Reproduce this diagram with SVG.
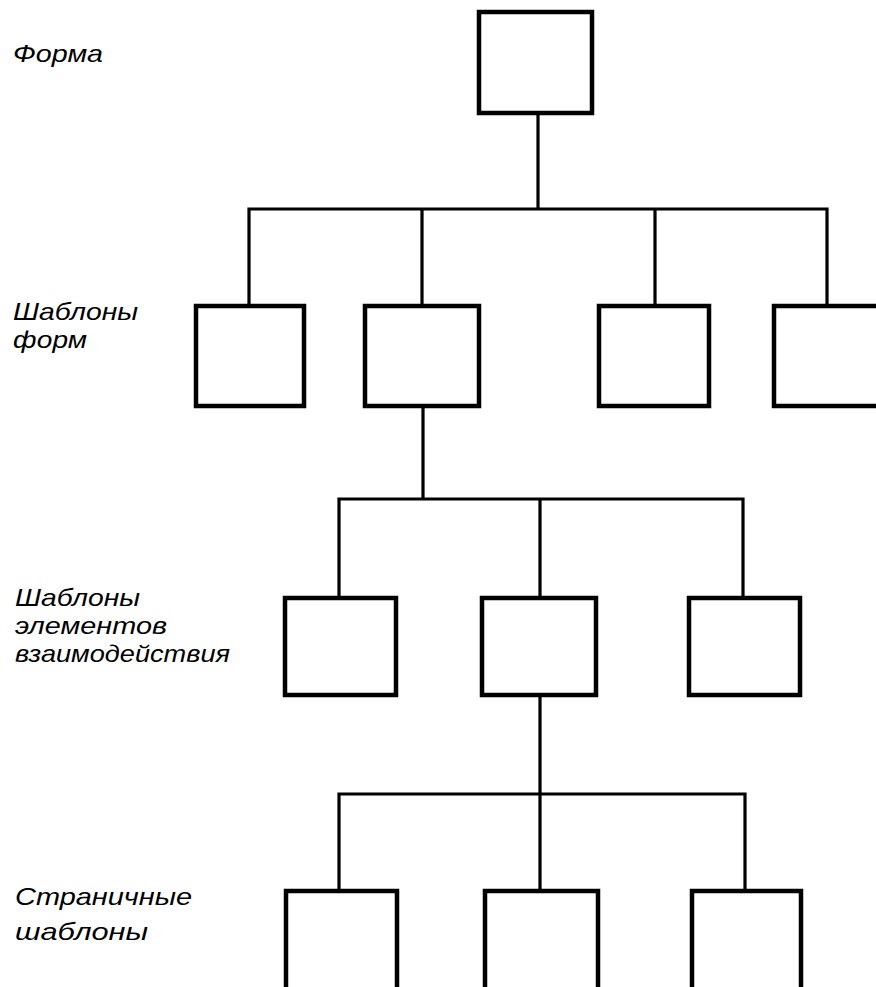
<svg xmlns="http://www.w3.org/2000/svg" width="876" height="987" viewBox="0 0 876 987">
<style>
.box{fill:#fff;stroke:#000;stroke-width:4.5}
.ln{fill:none;stroke:#000;stroke-width:3.2;stroke-linecap:square}
.lbl{font-family:"Liberation Sans",Arial,sans-serif;font-style:italic;font-size:24px;fill:#000}
</style>
<rect width="876" height="987" fill="#fff"/>
<g id="connectors">
<path class="ln" d="M538 113V209M249 209H827M249 209V306M422 209V306M655 209V306M827 209V306"/>
<path class="ln" d="M423 406V499M339 499H743M339 499V598M540 499V598M743 499V598"/>
<path class="ln" d="M540 695V794M339 794H745M339 794V891M540 794V891M745 794V891"/>
</g>
<g id="labels">
<text class="lbl" x="13" y="62" textLength="90" lengthAdjust="spacingAndGlyphs">Форма</text>
<text class="lbl" x="13" y="320" textLength="125" lengthAdjust="spacingAndGlyphs">Шаблоны</text>
<text class="lbl" x="13" y="348" textLength="74" lengthAdjust="spacingAndGlyphs">форм</text>
<text class="lbl" x="15" y="606" textLength="125" lengthAdjust="spacingAndGlyphs">Шаблоны</text>
<text class="lbl" x="15" y="634" textLength="152" lengthAdjust="spacingAndGlyphs">элементов</text>
<text class="lbl" x="15" y="662" textLength="215" lengthAdjust="spacingAndGlyphs">взаимодействия</text>
<text class="lbl" x="15" y="905" textLength="177" lengthAdjust="spacingAndGlyphs">Страничные</text>
<text class="lbl" x="15" y="940" textLength="133" lengthAdjust="spacingAndGlyphs">шаблоны</text>
</g>
<g id="n-root"><rect class="box" x="479" y="12" width="113" height="101"/></g>
<g id="n-f1"><rect class="box" x="196" y="306" width="108" height="100"/></g>
<g id="n-f2"><rect class="box" x="365" y="306" width="114" height="100"/></g>
<g id="n-f3"><rect class="box" x="599" y="306" width="110" height="100"/></g>
<g id="n-f4"><rect class="box" x="774" y="306" width="130" height="100"/></g>
<g id="n-e1"><rect class="box" x="285" y="598" width="111" height="97"/></g>
<g id="n-e2"><rect class="box" x="482" y="598" width="114" height="97"/></g>
<g id="n-e3"><rect class="box" x="689" y="598" width="111" height="97"/></g>
<g id="n-p1"><rect class="box" x="286" y="891" width="111" height="120"/></g>
<g id="n-p2"><rect class="box" x="485" y="891" width="113" height="120"/></g>
<g id="n-p3"><rect class="box" x="692" y="891" width="109" height="120"/></g>
</svg>
